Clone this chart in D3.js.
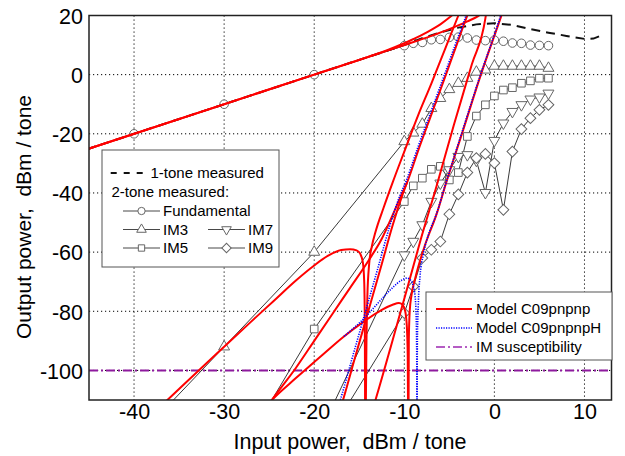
<!DOCTYPE html>
<html>
<head>
<meta charset="utf-8">
<script src="https://cdn.jsdelivr.net/npm/d3@7"></script>
<style>
  body { margin: 0; background: #fff; }
  svg { font-family: "Liberation Sans", Arial, sans-serif; }
  text { white-space: pre; }
</style>
</head>
<body>
<div class="canvas"></div>
<script>
// ticks
const xTicks = [-40, -30, -20, -10, 0, 10];
const yTicks = [-100, -80, -60, -40, -20, 0, 20];

// measured 2-tone data, low power points then the 1 dB sweep
const lowIn = [-50, -40, -30, -20];
const sweepIn = [-10, -9, -8, -7, -6, -5, -4, -3, -2, -1, 0, 1, 2, 3, 4, 5, 6];
const fundLow = [-30, -20, -10, 0];
const fundSweep = [9.8, 10.6, 10.9, 11.8, 11.9, 12.6, 12.7, 12.4, 11.7, 11.5, 11.7, 11.3, 10.7, 10.6, 10.0, 9.9, 9.8];
const im3Low = [null, -124, -92, -60];
const im3Sweep = [-22.6, -19.7, -16.7, -11.4, -8, -5, -2.9, -1.2, 0.9, 1.6, 2.9, 2.9, 2.9, 2.9, 2.9, 2.9, 2.2];
const im5Low = [null, null, -137, -86];
const im5Sweep = [-42.9, -37.6, -35, -32, -31, -35.6, -33.1, -20.9, -14, -10.2, -7.2, -5.2, -4.4, -2.9, -2.1, -1.2, -1.2];
const im7Low = [null, null, null, -125];
const im7Sweep = [-61, -56.4, -50.8, -42.9, -36.7, -32.2, -27.7, -27.1, -29, -39.9, -22.3, -16.4, -12.5, -10.2, -8.3, -7.6, -6.3];
const im9Low = [null, null, null, -130];
const im9Sweep = [-80.6, -71.6, -62, -59.2, -56.4, -47.2, -40.5, -33.1, -28.2, -26.8, -29.9, -45.7, -26, -18.4, -14.7, -11.9, -10.2];

// measured 1-tone
const oneToneIn = [-50, -40, -30, -20, -15, -10, -8, -6, -4, -2, 0, 2, 4, 6, 8, 10, 11, 12];
const oneToneOut = [-30, -20, -10, 0, 5, 10, 12.3, 14.3, 15.9, 17, 17.4, 16.8, 15.4, 14.2, 13.1, 12.1, 12.2, 13.4];

// model C09pnpnp (red)
const redFundA = [[-46,-26],[-30,-10],[-20,0],[-13,7],[-10,10],[-7,13.1],[-5,15.4],[-3,18],[-1.8,19.8],[-1.2,21]];
const redFundB = [[-46,-26],[-20,0],[-15,5],[-13,7.1],[-11,9.4],[-9,12],[-7.5,14.3],[-6,17],[-5,19.3],[-4.5,20.6],[-4.3,21.2]];
const redIm3Left = [[-38,-115],[-36.3,-110],[-33,-100.5],[-30,-92],[-27,-83.5],[-24.5,-76.5],[-22,-69.5],[-20,-64.5],[-18.5,-61.3],[-17,-59.3],[-16,-59],[-15.3,-59.4],[-14.9,-60.5],[-14.6,-63.5],[-14.45,-70],[-14.38,-85],[-14.35,-115]];
const redIm3Right = [[-14.28,-115],[-14.2,-90],[-14.1,-75],[-13.9,-64],[-13.6,-58],[-13.2,-53.2],[-12.3,-45],[-11.3,-36.5],[-10,-26],[-8.5,-14],[-7,-3],[-5.5,8.5],[-4,20],[-3.8,21.5]];
const redIm5 = [[-25.5,-113.5],[-24.7,-110],[-22,-99],[-20,-90],[-18,-81],[-16,-72],[-14,-63],[-12.5,-55.5],[-11.3,-47.5],[-10.3,-40.5],[-9.7,-36.5],[-8.5,-26],[-7,-13.5],[-5.5,-1],[-4.2,10],[-3,20],[-2.8,21.5]];
const redSteep = [[-17.2,-114],[-16.8,-110],[-15.5,-96],[-14,-80],[-12.5,-64],[-11.3,-51],[-10.3,-41.5],[-9.7,-36.5]];
const redIm7 = [[-13.6,-114],[-13.2,-110],[-11.5,-92],[-9.7,-72.5],[-8.2,-56],[-6.4,-37.5],[-4.5,-17],[-2.5,3.5],[-1,19],[-0.9,21]];
const redHumpLeft = [[-25.6,-113],[-24.7,-110],[-22,-102.5],[-19,-94.5],[-16.7,-88.5],[-14.5,-83.5],[-12.5,-79.5],[-11.3,-77.8],[-10.6,-77.2],[-10.2,-77.8],[-9.9,-80],[-9.72,-85],[-9.62,-95],[-9.58,-115]];
const redHumpRight = [[-9.53,-115],[-9.5,-90],[-9.4,-80],[-9.2,-74.5],[-8.8,-69],[-7.8,-58.5],[-6.4,-47],[-5.3,-36],[-3.5,-19],[-1.5,0],[0.5,17.5],[0.9,21]];

// model C09pnpnpH (blue), where it leaves the red curves
const blueSteep = [[-17.5,-114],[-17.1,-110],[-15.8,-96],[-14.3,-80],[-12.8,-64],[-11.6,-51],[-10.5,-41],[-9.8,-36],[-8.6,-25.5],[-7.1,-13],[-5.6,-0.5],[-4.3,10.5],[-3.1,20.5],[-3,21.5]];
const blueHumpLeft = [[-16.7,-88.5],[-14.5,-82.5],[-12.7,-76.5],[-11.3,-72],[-10.3,-69.5],[-9.7,-68.8],[-9.3,-69.5],[-9.0,-71.5],[-8.8,-75],[-8.68,-82],[-8.62,-95],[-8.6,-115]];
const blueHumpRight = [[-8.58,-115],[-8.55,-90],[-8.45,-78],[-8.25,-68],[-7.9,-61],[-7.2,-53],[-6.5,-47.7],[-5.4,-36.8],[-3.6,-19.5],[-1.6,-0.5],[0.4,17.2],[0.8,21]];

// IM susceptibility level
const imSusceptibility = -100;

const width = 625, height = 456;
const plot = { left: 89, right: 611.5, top: 15.5, bottom: 400 };

const svg = d3.select('.canvas')
    .append('svg')
    .attr('width', width)
    .attr('height', height);

const x = d3.scaleLinear().domain([-45, 13]).range([plot.left, plot.right]);
const y = d3.scaleLinear().domain([-110, 20]).range([plot.bottom, plot.top]);

svg.append('clipPath').attr('id', 'clip')
  .append('rect')
    .attr('x', plot.left).attr('y', plot.top)
    .attr('width', plot.right - plot.left)
    .attr('height', plot.bottom - plot.top);

// grid
const grid = svg.append('g')
    .attr('stroke', '#000')
    .attr('stroke-width', 1)
    .attr('stroke-dasharray', '1.2,2.8');

grid.selectAll('.vx').data(xTicks).enter().append('line')
    .attr('x1', d => x(d)).attr('x2', d => x(d))
    .attr('y1', plot.top).attr('y2', plot.bottom);

grid.selectAll('.hy').data(yTicks.filter(d => d < 20)).enter().append('line')
    .attr('y1', d => y(d)).attr('y2', d => y(d))
    .attr('x1', plot.left).attr('x2', plot.right);

const g = svg.append('g').attr('clip-path', 'url(#clip)');

// susceptibility line
g.append('line')
    .attr('x1', plot.left).attr('x2', plot.right)
    .attr('y1', y(imSusceptibility)).attr('y2', y(imSusceptibility))
    .attr('stroke', '#8e1a9e')
    .attr('stroke-width', 2)
    .attr('stroke-dasharray', '9,3,2,3');

const symbols = {
    circle: d3.symbol().type(d3.symbolCircle).size(58),
    up: d3.symbol().type(d3.symbolTriangle).size(52),
    down: d3.symbol().type(d3.symbolTriangle).size(52),
    square: d3.symbol().type(d3.symbolSquare).size(58),
    diamond: d3.symbol().type(d3.symbolSquare).size(58)
};
const rot = { circle: 0, up: 0, down: 180, square: 0, diamond: 45 };

const measured = [
    { sym: 'circle', x: lowIn.concat(sweepIn), y: fundLow.concat(fundSweep) },
    { sym: 'up', x: lowIn.concat(sweepIn), y: im3Low.concat(im3Sweep) },
    { sym: 'square', x: lowIn.concat(sweepIn), y: im5Low.concat(im5Sweep) },
    { sym: 'down', x: lowIn.concat(sweepIn), y: im7Low.concat(im7Sweep) },
    { sym: 'diamond', x: lowIn.concat(sweepIn), y: im9Low.concat(im9Sweep) }
].map(s => ({ sym: s.sym, pts: s.x.map((v, i) => [v, s.y[i]]).filter(p => p[1] !== null) }));

const line = d3.line().x(d => x(d[0])).y(d => y(d[1]));
const smooth = d3.line().x(d => x(d[0])).y(d => y(d[1])).curve(d3.curveMonotoneX);

// measured lines
g.selectAll('.mline').data(measured).enter().append('path')
    .attr('d', d => line(d.pts))
    .attr('fill', 'none')
    .attr('stroke', '#222')
    .attr('stroke-width', 0.9);

// measured markers
measured.forEach(s => {
    g.selectAll('.m-' + s.sym).data(s.pts).enter().append('path')
        .attr('d', symbols[s.sym])
        .attr('transform', d => `translate(${x(d[0])},${y(d[1])}) rotate(${rot[s.sym]})`)
        .attr('fill', '#fff')
        .attr('stroke', '#666')
        .attr('stroke-width', 1);
});

// 1-tone measured
g.append('path')
    .attr('d', line(oneToneIn.map((v, i) => [v, oneToneOut[i]])))
    .attr('fill', 'none')
    .attr('stroke', '#111')
    .attr('stroke-width', 2)
    .attr('stroke-dasharray', '9,6');

// models
const reds = [redFundA, redFundB, redIm3Left, redIm3Right, redIm5, redSteep, redIm7, redHumpLeft, redHumpRight];
const blues = [blueSteep, blueHumpLeft, blueHumpRight];

g.selectAll('.red').data(reds).enter().append('path')
    .attr('d', smooth)
    .attr('fill', 'none')
    .attr('stroke', '#ff0000')
    .attr('stroke-width', 2);

g.selectAll('.blue').data(blues).enter().append('path')
    .attr('d', smooth)
    .attr('fill', 'none')
    .attr('stroke', '#0000ff')
    .attr('stroke-width', 1.6)
    .attr('stroke-dasharray', '1.2,1.3');

// frame
svg.append('rect')
    .attr('x', plot.left).attr('y', plot.top)
    .attr('width', plot.right - plot.left)
    .attr('height', plot.bottom - plot.top)
    .attr('fill', 'none')
    .attr('stroke', '#222')
    .attr('stroke-width', 1.5);

// axes
const xAxis = svg.append('g')
    .attr('transform', `translate(0,${plot.bottom})`)
    .call(d3.axisBottom(x).tickValues(xTicks).tickSize(0).tickFormat(d => String(d)));
const yAxis = svg.append('g')
    .attr('transform', `translate(${plot.left},0)`)
    .call(d3.axisLeft(y).tickValues(yTicks).tickSize(0).tickPadding(6).tickFormat(d => String(d)));

[xAxis, yAxis].forEach(a => {
    a.select('.domain').remove();
    a.selectAll('text')
        .attr('font-family', '"Liberation Sans", Arial, sans-serif')
        .attr('font-size', 21.5)
        .attr('fill', '#000');
});
xAxis.selectAll('text').attr('dy', null).attr('y', 19);
yAxis.selectAll('text').attr('dy', '0.36em');

svg.append('text')
    .attr('x', 350).attr('y', 449)
    .attr('text-anchor', 'middle')
    .attr('font-size', 21.5)
    .text('Input power,  dBm / tone');

svg.append('text')
    .attr('transform', 'translate(31,217) rotate(-90)')
    .attr('text-anchor', 'middle')
    .attr('font-size', 21)
    .text('Output power,  dBm / tone');

// legend for measured data
const leg1 = svg.append('g').attr('font-size', 15);
leg1.append('rect')
    .attr('x', 102).attr('y', 150).attr('width', 177).attr('height', 117)
    .attr('fill', '#fff').attr('stroke', '#555').attr('stroke-width', 1);
leg1.append('line')
    .attr('x1', 110.7).attr('x2', 143.5).attr('y1', 173).attr('y2', 173)
    .attr('stroke', '#111').attr('stroke-width', 1.8).attr('stroke-dasharray', '6,7');
leg1.append('text').attr('x', 150.5).attr('y', 178.4).text('1-tone measured');
leg1.append('text').attr('x', 111.5).attr('y', 197.4).text('2-tone measured:');

const leg1Items = [
    { sym: 'circle', label: 'Fundamental', x: 123, y: 211 },
    { sym: 'up', label: 'IM3', x: 123, y: 229.5 },
    { sym: 'square', label: 'IM5', x: 123, y: 248 },
    { sym: 'down', label: 'IM7', x: 208, y: 229.5 },
    { sym: 'diamond', label: 'IM9', x: 208, y: 248 }
];
const legSym = {
    circle: d3.symbol().type(d3.symbolCircle).size(42),
    up: d3.symbol().type(d3.symbolTriangle).size(40),
    down: d3.symbol().type(d3.symbolTriangle).size(40),
    square: d3.symbol().type(d3.symbolSquare).size(40),
    diamond: d3.symbol().type(d3.symbolSquare).size(44)
};
const li = leg1.selectAll('.li').data(leg1Items).enter().append('g')
    .attr('transform', d => `translate(${d.x},${d.y})`);
li.append('line').attr('x1', 0).attr('x2', 37).attr('stroke', '#333').attr('stroke-width', 0.9);
li.append('path')
    .attr('d', d => legSym[d.sym]())
    .attr('transform', d => `translate(18.5,0) rotate(${rot[d.sym]})`)
    .attr('fill', '#fff').attr('stroke', '#666');
li.append('text').attr('x', 40).attr('y', 5.4).text(d => d.label);

// legend for models
const leg2 = svg.append('g').attr('font-size', 15);
leg2.append('rect')
    .attr('x', 426).attr('y', 292).attr('width', 186).attr('height', 68)
    .attr('fill', '#fff').attr('stroke', '#555').attr('stroke-width', 1);
const leg2Items = [
    { label: 'Model C09pnpnp', color: '#ff0000', dash: null, w: 2 },
    { label: 'Model C09pnpnpH', color: '#0000ff', dash: '1.2,1.3', w: 1.6 },
    { label: 'IM susceptibility', color: '#b55cc4', dash: '9,3,2,3', w: 2 }
];
const l2 = leg2.selectAll('.l2').data(leg2Items).enter().append('g')
    .attr('transform', (d, i) => `translate(436,${309 + i * 19})`);
l2.append('line').attr('x1', 0).attr('x2', 36)
    .attr('stroke', d => d.color).attr('stroke-width', d => d.w)
    .attr('stroke-dasharray', d => d.dash);
l2.append('text').attr('x', 40).attr('y', 5.4).text(d => d.label);
</script>
</body>
</html>
